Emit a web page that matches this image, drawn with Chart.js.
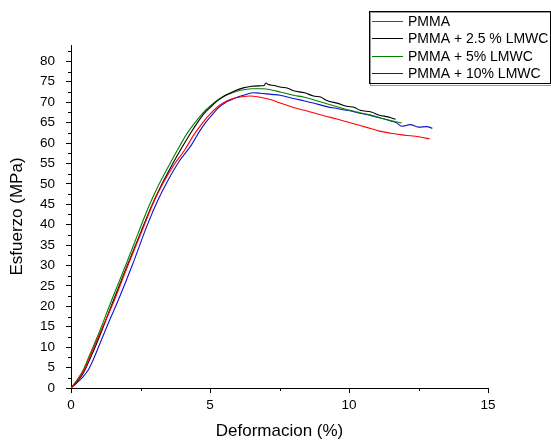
<!DOCTYPE html>
<html>
<head>
<meta charset="utf-8">
<script src="https://cdn.jsdelivr.net/npm/chart.js@4/dist/chart.umd.min.js"></script>
<style>
  html, body { margin: 0; padding: 0; background: #fff; }
  #wrap { width: 551px; height: 442px; position: relative; }
</style>
</head>
<body>
<div id="wrap"><canvas id="stress-chart"></canvas></div>
<script>
// Series names, as in the legend
const seriesNames = ["PMMA", "PMMA + 2.5 % LMWC", "PMMA + 5% LMWC", "PMMA + 10% LMWC"];

// Tick labels
const xTicks = [0, 5, 10, 15];
const yTicks = [0, 5, 10, 15, 20, 25, 30, 35, 40, 45, 50, 55, 60, 65, 70, 75, 80];

// PMMA (red)
const strainPMMA = [0, 0.2, 0.44, 0.7, 1.0, 1.56, 2.0, 2.5, 3.0, 3.3, 3.7, 4.1, 4.4, 4.74, 5.0, 5.3, 5.6, 5.9, 6.2, 6.44, 6.8, 7.2, 7.52, 8.0, 8.4, 8.72, 9.2, 9.6, 9.92, 10.4, 10.8, 11.1, 11.5, 11.9, 12.3, 12.6, 12.9];
const stressPMMA = [0, 1.6, 4.0, 8.0, 12.8, 21.5, 29.2, 37.6, 45.9, 50.0, 54.6, 58.4, 61.8, 65.0, 67.1, 69.0, 70.3, 71.0, 71.4, 71.5, 71.2, 70.6, 69.8, 68.7, 68.0, 67.4, 66.5, 65.8, 65.2, 64.3, 63.5, 62.9, 62.4, 62.0, 61.7, 61.4, 61.0];

// PMMA + 2.5 % LMWC (black)
const strain25 = [0, 0.2, 0.44, 0.7, 1.0, 1.5, 2.0, 2.5, 2.9, 3.2, 3.6, 4.0, 4.3, 4.55, 4.8, 5.05, 5.3, 5.6, 5.9, 6.2, 6.5, 6.8, 6.95, 7.01, 7.1, 7.3, 7.52, 7.8, 8.0, 8.4, 8.72, 9.0, 9.2, 9.6, 9.92, 10.2, 10.4, 10.8, 11.1, 11.4, 11.68];
const stress25 = [0, 1.4, 3.6, 7.4, 12.2, 21.0, 29.6, 38.0, 44.6, 49.0, 54.2, 59.0, 62.4, 65.0, 67.3, 69.0, 70.5, 71.8, 72.8, 73.5, 73.9, 74.0, 74.1, 74.7, 74.3, 74.1, 73.7, 73.4, 72.8, 72.3, 71.5, 71.2, 70.4, 69.7, 69.0, 68.7, 68.0, 67.6, 66.8, 66.4, 65.8];

// PMMA + 5% LMWC (green)
const strain5 = [0, 0.2, 0.44, 0.7, 1.0, 1.46, 2.0, 2.42, 2.8, 3.1, 3.5, 3.92, 4.2, 4.46, 4.75, 5.0, 5.25, 5.5, 5.8, 6.1, 6.5, 6.9, 7.2, 7.52, 8.0, 8.4, 8.72, 9.2, 9.6, 9.92, 10.4, 10.8, 11.1, 11.5, 11.9];
const stress5 = [0, 1.8, 4.4, 8.6, 13.4, 21.5, 30.6, 38.0, 44.5, 49.0, 54.2, 59.4, 62.6, 65.0, 67.4, 69.0, 70.4, 71.5, 72.3, 72.9, 73.3, 73.3, 73.0, 72.5, 71.7, 71.2, 70.6, 69.6, 68.8, 68.2, 67.4, 66.8, 66.2, 65.5, 64.9];

// PMMA + 10% LMWC (blue)
const strain10 = [0, 0.2, 0.44, 0.62, 0.8, 1.0, 1.35, 1.7, 2.2, 2.75, 3.12, 3.5, 3.9, 4.34, 4.6, 4.82, 5.05, 5.3, 5.6, 5.9, 6.2, 6.55, 6.8, 7.2, 7.52, 8.0, 8.4, 8.72, 9.2, 9.6, 9.92, 10.4, 10.8, 11.1, 11.5, 11.7, 11.9, 12.2, 12.5, 12.8, 13.0];
const stress10 = [0, 1.2, 2.8, 4.4, 6.9, 10.2, 16.0, 21.5, 30.0, 40.0, 45.9, 51.0, 55.6, 59.6, 62.6, 64.8, 66.7, 68.6, 70.1, 71.0, 71.7, 72.3, 72.2, 71.9, 71.7, 70.9, 70.3, 69.8, 68.9, 68.4, 68.0, 67.3, 66.7, 66.2, 65.4, 65.0, 64.1, 64.5, 63.9, 64.0, 63.6];

const seriesColors = ["#ff0000", "#000000", "#008000", "#1010d0"];

function toPoints(xs, ys) {
  return xs.map((x, i) => ({ x: x, y: ys[i] }));
}

const fontFamily = "'Liberation Sans', Arial, sans-serif";

// minor tick marks on both axes
const minorTicks = {
  id: "minorTicks",
  afterDraw(chart) {
    const ctx = chart.ctx;
    const xs = chart.scales.x;
    const ys = chart.scales.y;
    ctx.save();
    ctx.strokeStyle = "#000";
    ctx.lineWidth = 1;
    ctx.beginPath();
    for (let v = 2.5; v < 15; v += 5) {
      const px = Math.round(xs.getPixelForValue(v)) + 0.5;
      ctx.moveTo(px, ys.bottom);
      ctx.lineTo(px, ys.bottom + 3);
    }
    for (let v = 2.5; v < 84; v += 5) {
      const py = Math.round(ys.getPixelForValue(v)) + 0.5;
      ctx.moveTo(xs.left, py);
      ctx.lineTo(xs.left - 3, py);
    }
    ctx.stroke();
    ctx.restore();
  }
};

// boxed legend in the top right corner
const boxLegend = {
  id: "boxLegend",
  afterDraw(chart) {
    const ctx = chart.ctx;
    ctx.save();
    ctx.fillStyle = "#fff";
    ctx.fillRect(369, 11, 181, 73);
    ctx.lineWidth = 1;
    ctx.strokeStyle = "#999";
    ctx.strokeRect(370.5, 12.5, 181, 73);
    ctx.strokeStyle = "#000";
    ctx.strokeRect(369.5, 11.5, 181, 72);
    ctx.font = "14px " + fontFamily;
    ctx.textBaseline = "middle";
    seriesNames.forEach((name, i) => {
      const y = Math.round(20.5 + i * 17.6);
      ctx.fillStyle = seriesColors[i];
      ctx.fillRect(372, y, 31, 1);
      ctx.fillStyle = "#000";
      ctx.fillText(name, 408, y + 1);
    });
    ctx.restore();
  }
};

function createChart() {
  const ctx = document.getElementById("stress-chart").getContext("2d");
  const datasets = [
    [strainPMMA, stressPMMA],
    [strain25, stress25],
    [strain5, stress5],
    [strain10, stress10]
  ].map((pair, i) => ({
    label: seriesNames[i],
    data: toPoints(pair[0], pair[1]),
    borderColor: seriesColors[i],
    backgroundColor: seriesColors[i],
    borderWidth: 1.1,
    pointRadius: 0,
    showLine: true,
    cubicInterpolationMode: "monotone"
  }));

  new Chart(ctx, {
    type: "scatter",
    data: { datasets: datasets },
    options: {
      responsive: true,
      maintainAspectRatio: false,
      animation: false,
      layout: { padding: { left: 0, right: 63, top: 45, bottom: 0 } },
      plugins: {
        legend: { display: false },
        tooltip: { enabled: false }
      },
      scales: {
        x: {
          type: "linear",
          min: 0,
          max: 15,
          afterBuildTicks: (scale) => { scale.ticks = xTicks.map(v => ({ value: v })); },
          afterFit: (scale) => { scale.height = 54; },
          grid: { display: true, drawOnChartArea: false, drawTicks: true, tickLength: 5, color: "#000" },
          border: { display: true, color: "#000", width: 1 },
          ticks: { color: "#000", padding: 4, maxRotation: 0, font: { family: fontFamily, size: 13.5 } },
          title: { display: true, text: "Deformacion (%)", color: "#000", padding: { top: 0, bottom: 0 }, font: { family: fontFamily, size: 17 } }
        },
        y: {
          type: "linear",
          min: 0,
          max: 84,
          afterBuildTicks: (scale) => { scale.ticks = yTicks.map(v => ({ value: v })); },
          afterFit: (scale) => { scale.width = 71; },
          grid: { display: true, drawOnChartArea: false, drawTicks: true, tickLength: 5, color: "#000" },
          border: { display: true, color: "#000", width: 1 },
          ticks: { color: "#000", padding: 11, font: { family: fontFamily, size: 13.5 } },
          title: { display: true, text: "Esfuerzo (MPa)", color: "#000", padding: { top: 7, bottom: 0 }, font: { family: fontFamily, size: 17 } }
        }
      }
    },
    plugins: [minorTicks, boxLegend]
  });
}

document.addEventListener("DOMContentLoaded", function () {
  createChart();
});
</script>
</body>
</html>
